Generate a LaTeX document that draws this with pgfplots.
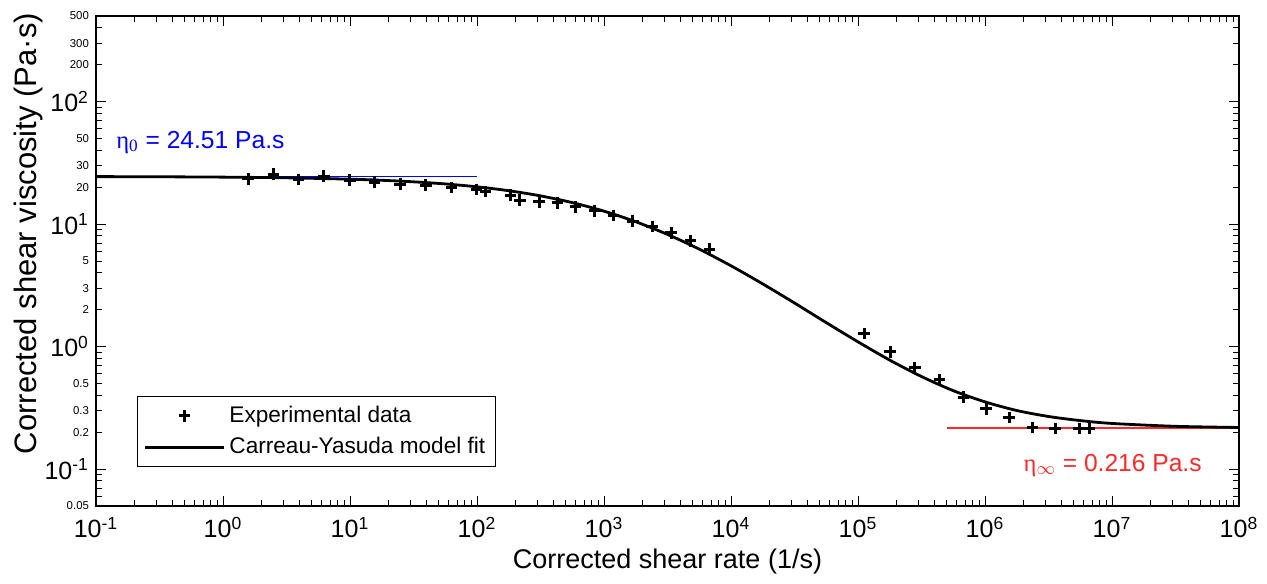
\documentclass[border=0pt]{standalone}
\usepackage{fontspec}
\setmainfont{Liberation Sans}
\newfontfamily\serif{Liberation Serif}
\usepackage{pgfplots}
\usepackage{pgfplotstable}
\pgfplotsset{compat=1.18}

\pgfplotstableread{
x y
1.58 23.4
2.49 25.6
3.92 23.2
6.24 24.6
9.96 22.9
15.6 22.0
24.8 21.2
39.5 20.8
62.8 19.9
98.9 19.2
117 18.4
184 17.2
218 15.7
308 15.2
429 14.9
598 13.8
845 12.8
1192 11.8
1683 10.6
2389 9.6
3373 8.48
4786 7.30
6750 6.24
1.12e5 1.28
1.79e5 0.904
2.81e5 0.675
4.37e5 0.538
6.75e5 0.388
1.02e6 0.310
1.55e6 0.263
2.36e6 0.218
3.57e6 0.215
5.50e6 0.215
6.62e6 0.215
}\expdata

% Carreau-Yasuda fit, tabulated
\pgfplotstableread{
x y
0.1 24.43
0.316 24.35
1 24.19
3.16 23.88
10 23.28
17.8 22.80
31.6 22.15
56.2 21.29
100 20.16
178 18.74
316 17.01
562 14.99
1000 12.76
1778 10.46
3162 8.24
5623 6.25
1e4 4.57
17783 3.25
31623 2.27
56234 1.57
1e5 1.094
177828 0.776
316228 0.570
562341 0.437
1e6 0.354
1778279 0.301
3162278 0.269
5623413 0.249
1e7 0.236
3.162e7 0.2236
1e8 0.2188
}\fitdata

\definecolor{myred}{RGB}{255,40,40}

\pgfplotsset{
  lineleg/.style={legend image code/.code={\draw[##1] (0pt,0pt) -- (39.5pt,0pt);}},
  markleg/.style={legend image code/.code={\draw[##1] plot coordinates {(19.75pt,0pt)};}},
}

\begin{document}
\begin{tikzpicture}
\begin{axis}[
  width=571.5pt, height=245pt, scale only axis,
  xmode=log, ymode=log,
  xmin=0.1, xmax=1e8, ymin=0.05, ymax=500,
  axis line style={line width=0.6pt},
  tick style={line width=0.5pt, black},
  major tick length=5pt, minor tick length=3pt,
  xtick={0.1,1,10,100,1000,1e4,1e5,1e6,1e7,1e8},
  xticklabels={10\textsuperscript{-1},10\textsuperscript{0},10\textsuperscript{1},10\textsuperscript{2},10\textsuperscript{3},10\textsuperscript{4},10\textsuperscript{5},10\textsuperscript{6},10\textsuperscript{7},10\textsuperscript{8}},
  minor xtick={0.2,0.3,0.4,0.5,0.6,0.7,0.8,0.9,2,3,4,5,6,7,8,9,20,30,40,50,60,70,80,90,200,300,400,500,600,700,800,900,2e3,3e3,4e3,5e3,6e3,7e3,8e3,9e3,2e4,3e4,4e4,5e4,6e4,7e4,8e4,9e4,2e5,3e5,4e5,5e5,6e5,7e5,8e5,9e5,2e6,3e6,4e6,5e6,6e6,7e6,8e6,9e6,2e7,3e7,4e7,5e7,6e7,7e7,8e7,9e7},
  ytick={0.1,1,10,100},
  yticklabels={10\textsuperscript{-1},10\textsuperscript{0},10\textsuperscript{1},10\textsuperscript{2}},
  minor ytick={0.06,0.07,0.08,0.09,0.4,0.6,0.7,0.8,0.9,4,6,7,8,9,40,60,70,80,90,400},
  extra y ticks={0.05,0.2,0.3,0.5,2,3,5,20,30,50,200,300,500},
  extra y tick labels={0.05,0.2,0.3,0.5,2,3,5,20,30,50,200,300,500},
  extra y tick style={major tick length=3pt, yticklabel style={font=\fontsize{5.7}{6}\selectfont}},
  tick label style={font=\fontsize{12.5}{14}\selectfont},
  xticklabel style={yshift=-2pt},
  xlabel={Corrected shear rate (1/s)},
  ylabel={Corrected shear viscosity (Pa·s)},
  xlabel style={at={(axis description cs:0.5,-0.114)}, anchor=center, font=\fontsize{13.5}{15}\selectfont},
  ylabel style={at={(axis description cs:-0.0595,0.556)}, anchor=center, font=\fontsize{15.5}{17}\selectfont},
  legend style={at={(axis description cs:0.036,0.079)}, anchor=south west, draw=black, line width=0.5pt,
    font=\fontsize{11.3}{13}\selectfont, inner xsep=3pt, inner ysep=3pt, row sep=2pt},
  legend cell align=left,
  reverse legend,
]
\addplot[blue, line width=0.8pt, forget plot] coordinates {(1,24.51) (100,24.51)};
\addplot[myred, line width=0.8pt, forget plot] coordinates {(5e5,0.216) (1e8,0.216)};
\addplot[black, line width=1.4pt, smooth, lineleg] table[x=x,y=y] {\fitdata};
\addlegendentry{Carreau-Yasuda model fit}
\addplot[only marks, mark=+, mark size=2.9pt, black, line width=1.5pt, markleg] table[x=x,y=y] {\expdata};
\addlegendentry{Experimental data}
\node[anchor=base west, inner sep=0pt, text=blue, font=\fontsize{12.3}{14}\selectfont] at (axis cs:0.1435,41.7) {{\serif η\textsubscript{0}} = 24.51 Pa.s};
\node[anchor=base west, inner sep=0pt, text=myred, font=\fontsize{12.3}{14}\selectfont] at (axis cs:2.0e6,0.0964) {{\serif η}\textsubscript{$\infty$} = 0.216 Pa.s};
\end{axis}
\pgfresetboundingbox
\path ([shift={(-48pt,-38.5pt)}]current axis.south west) rectangle ([shift={(14pt,8pt)}]current axis.north east);
\end{tikzpicture}
\end{document}
